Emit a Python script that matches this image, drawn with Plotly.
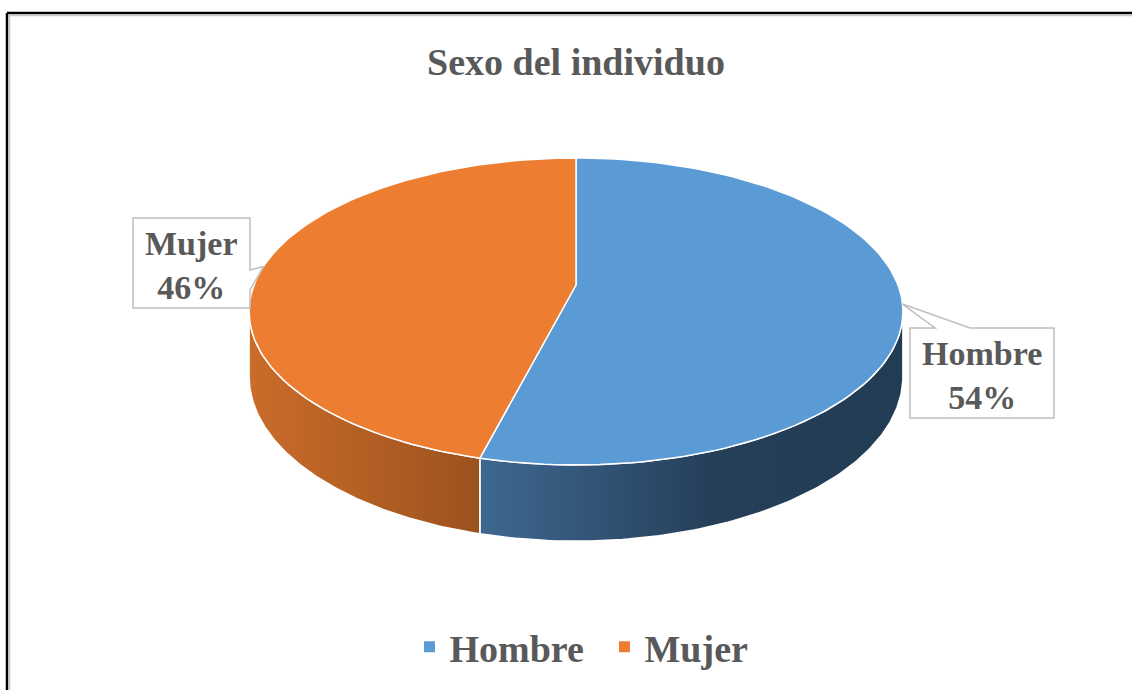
import math
import plotly.graph_objects as go

# ---- data ----
categories = ["Hombre", "Mujer"]
values = [54, 46]
top_colors = ["#5B9BD5", "#ED7D31"]
side_scales = [
    [[0, "#3E6891"], [0.55, "#253F59"], [1, "#223C54"]],
    [[0, "#CA6C2A"], [1, "#9C521E"]],
]
title_text = "Sexo del individuo"

# ---- layout params (pixels) ----
W, HGT = 1132, 690
CX, CY = 576, 285          # projected pie centre
RA, RB, PERS = 322, 148.9, 0.1726  # horizontal/vertical radius, perspective
DEPTH = 63
FONT = "Liberation Serif"
TXT = "#595959"

def proj(phi_deg):
    r = math.radians(phi_deg)
    u, v = math.sin(r), math.cos(r)
    s = 1.0 / (1.0 + PERS * v)
    return CX + RA * u * s, CY - RB * v * s, s

def arc(a, b, n=120):
    return [a + (b - a) * i / n for i in range(n + 1)]

total = sum(values)
angles = []
start = 0.0
for v in values:
    span = 360.0 * v / total
    angles.append((start, start + span))
    start += span

front_l = math.degrees(math.acos(-PERS))
front_r = 360 - front_l

fig = go.Figure()

# sides
for i, (a, b) in enumerate(angles):
    lo, hi = max(a, front_l), min(b, front_r)
    if hi <= lo:
        continue
    ph = arc(lo, hi)
    xs, ys = [], []
    for p in ph:
        x, y, s = proj(p)
        xs.append(x); ys.append(y)
    for p in reversed(ph):
        x, y, s = proj(p)
        xs.append(x); ys.append(y + DEPTH * s)
    xs.append(xs[0]); ys.append(ys[0])
    fig.add_trace(go.Scatter(
        x=xs, y=ys, mode="lines", fill="toself",
        fillgradient=dict(type="horizontal", colorscale=side_scales[i]),
        line=dict(color="white", width=1.5),
        hoverinfo="skip", showlegend=False))

# tops
for i, (a, b) in enumerate(angles):
    xs, ys = [CX], [CY]
    for p in arc(a, b):
        x, y, s = proj(p)
        xs.append(x); ys.append(y)
    xs.append(CX); ys.append(CY)
    fig.add_trace(go.Scatter(
        x=xs, y=ys, mode="lines", fill="toself", fillcolor=top_colors[i],
        line=dict(color="white", width=1.5),
        hoverinfo="skip", showlegend=False))

# legend entries
for i, c in enumerate(categories):
    fig.add_trace(go.Scatter(
        x=[None], y=[None], mode="markers", name=c,
        marker=dict(symbol="square", size=11, color=top_colors[i])))

# data label callouts
label_boxes = {
    "Hombre": dict(box=(910, 328, 1054, 418), base=("top", 935, 970)),
    "Mujer": dict(box=(133, 218, 250, 308), base=("right", 270, 290)),
}
shapes = []
annotations = []
for i, c in enumerate(categories):
    a, b = angles[i]
    tx, ty, _ = proj((a + b) / 2)
    x0, y0, x1, y1 = label_boxes[c]["box"]
    side, p0, p1 = label_boxes[c]["base"]
    if side == "top":
        path = (f"M{x0},{y0} L{p0},{y0} L{tx},{ty} L{p1},{y0} L{x1},{y0} "
                f"L{x1},{y1} L{x0},{y1} Z")
    else:
        path = (f"M{x0},{y0} L{x1},{y0} L{x1},{p0} L{tx},{ty} L{x1},{p1} "
                f"L{x1},{y1} L{x0},{y1} Z")
    shapes.append(dict(type="path", path=path, xref="x", yref="y",
                       line=dict(color="#BFBFBF", width=1.5),
                       fillcolor="white", layer="above"))
    pct = round(values[i] / total * 100)
    annotations.append(dict(
        x=(x0 + x1) / 2, y=(y0 + y1) / 2 + 2, xref="x", yref="y",
        text=f"{c}<br>{pct}%", showarrow=False,
        font=dict(family=FONT, size=34, color=TXT, weight="bold")))

# frame
shapes += [
    dict(type="line", xref="x", yref="y", x0=7, y0=13, x1=7, y1=HGT,
         line=dict(color="black", width=2.5), layer="above"),
    dict(type="line", xref="x", yref="y", x0=7, y0=13, x1=W, y1=13,
         line=dict(color="black", width=2.5), layer="above"),
    dict(type="line", xref="x", yref="y", x0=9.5, y0=15.5, x1=9.5, y1=HGT,
         line=dict(color="#C8C8C8", width=1.5), layer="above"),
    dict(type="line", xref="x", yref="y", x0=9.5, y0=15.5, x1=W, y1=15.5,
         line=dict(color="#C8C8C8", width=1.5), layer="above"),
]

fig.update_layout(
    width=W, height=HGT,
    margin=dict(l=0, r=0, t=0, b=0),
    paper_bgcolor="white", plot_bgcolor="white",
    xaxis=dict(range=[0, W], visible=False, fixedrange=True),
    yaxis=dict(range=[HGT, 0], visible=False, fixedrange=True),
    title=dict(text=title_text, x=CX / W, xanchor="center",
               y=1 - 62 / HGT, yanchor="middle",
               font=dict(family=FONT, size=38, color=TXT, weight="bold")),
    legend=dict(orientation="h", x=0.534, xanchor="center",
                y=1 - 647 / HGT, yanchor="middle",
                font=dict(family=FONT, size=38, color=TXT, weight="bold"),
                entrywidth=150, entrywidthmode="pixels",
                bgcolor="rgba(0,0,0,0)"),
    shapes=shapes,
    annotations=annotations,
    showlegend=True,
)

fig.write_html("out.html", config={"displayModeBar": False},
               post_script="document.body.style.margin='0';")
